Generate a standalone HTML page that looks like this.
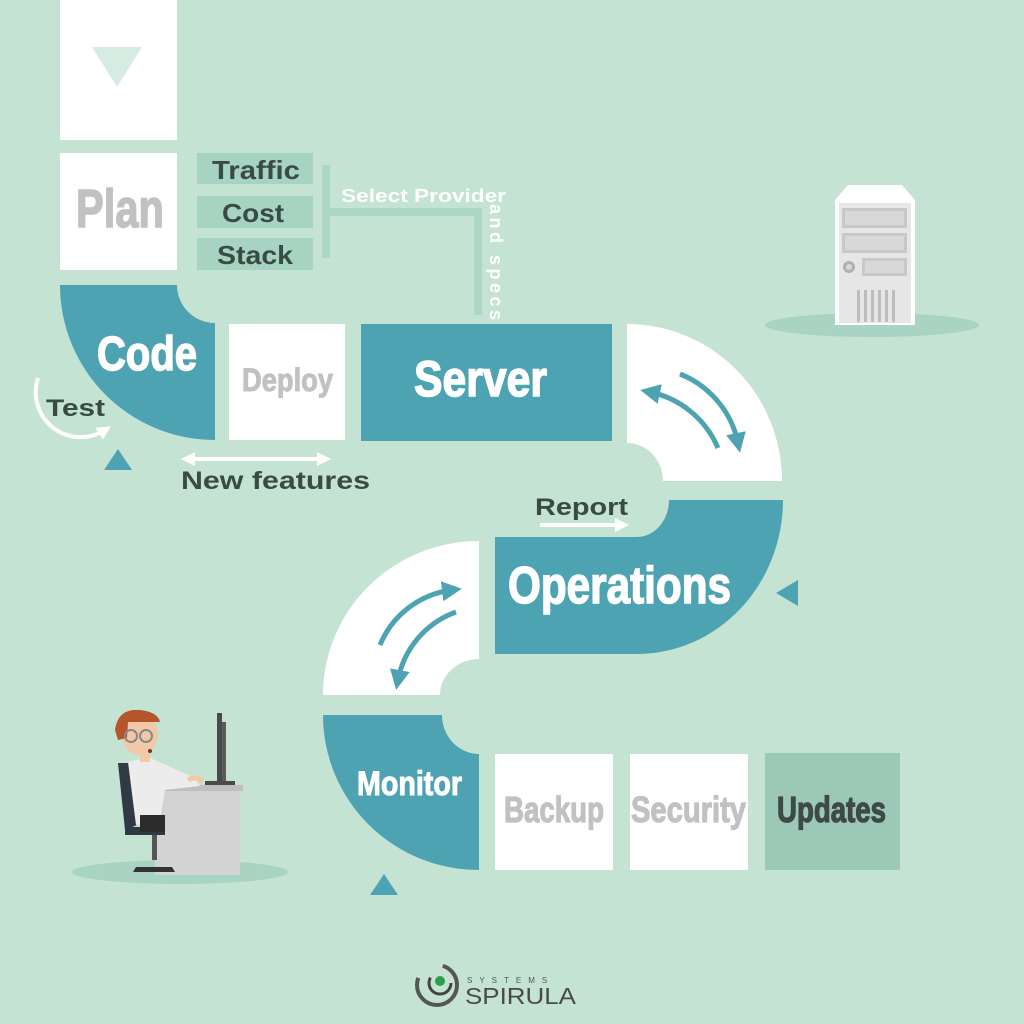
<!DOCTYPE html>
<html><head><meta charset="utf-8"><style>html,body{margin:0;padding:0;background:#c4e3d3;}svg{display:block}</style></head>
<body>
<svg width="1024" height="1024" viewBox="0 0 1024 1024" xmlns="http://www.w3.org/2000/svg">
<defs>
<marker id="ah" viewBox="0 0 10 10" refX="5" refY="5" markerWidth="4" markerHeight="4" orient="auto-start-reverse"><path d="M0,0 L10,5 L0,10 z" fill="#4ea3b3"/></marker>
<marker id="aw" viewBox="0 0 10 10" refX="5" refY="5" markerWidth="3.5" markerHeight="3.5" orient="auto-start-reverse"><path d="M0,0 L10,5 L0,10 z" fill="#fff"/></marker>
</defs>
<rect width="1024" height="1024" fill="#c4e3d3"/>
<rect x="60" y="0" width="117" height="140" fill="#fff"/>
<polygon points="92,47 142,47 117,87" fill="#d6ece3"/>
<rect x="60" y="153" width="117" height="117" fill="#fff"/>
<text x="76" y="227" font-family="Liberation Sans Narrow, Liberation Sans, sans-serif" font-weight="bold" font-size="54" fill="#c2c1c2" stroke="#c2c1c2" stroke-width="1.5" textLength="88" lengthAdjust="spacingAndGlyphs">Plan</text>
<rect x="197" y="153" width="116" height="31" fill="#a7d3c3"/>
<rect x="197" y="196" width="116" height="32" fill="#a7d3c3"/>
<rect x="197" y="238" width="116" height="32" fill="#a7d3c3"/>
<g font-family="Liberation Sans, sans-serif" font-weight="bold" font-size="26" fill="#3a4a45">
<text x="212" y="179" textLength="88" lengthAdjust="spacingAndGlyphs">Traffic</text>
<text x="222" y="222" textLength="62" lengthAdjust="spacingAndGlyphs">Cost</text>
<text x="217" y="264" textLength="76" lengthAdjust="spacingAndGlyphs">Stack</text>
</g>
<rect x="322" y="165" width="8" height="93" fill="#acd6c5"/>
<rect x="330" y="208" width="152" height="8" fill="#acd6c5"/>
<rect x="474" y="208" width="8" height="107" fill="#acd6c5"/>
<text x="341" y="202" font-family="Liberation Sans, sans-serif" font-weight="bold" font-size="18" fill="#fff" textLength="165" lengthAdjust="spacingAndGlyphs">Select Provider</text>
<text transform="translate(490,204) rotate(90)" x="0" y="0" font-family="Liberation Sans, sans-serif" font-weight="bold" font-size="18" fill="#fff" textLength="116" lengthAdjust="spacing">and specs</text>
<path d="M60,285 L177,285 A38,38 0 0 0 215,323 L215,440 A155,155 0 0 1 60,285 Z" fill="#4ea3b3"/>
<text x="97" y="370" font-family="Liberation Sans Narrow, Liberation Sans, sans-serif" font-weight="bold" font-size="48" fill="#fff" stroke="#fff" stroke-width="1.5" textLength="100" lengthAdjust="spacingAndGlyphs">Code</text>
<rect x="229" y="324" width="116" height="116" fill="#fff"/>
<text x="242" y="391" font-family="Liberation Sans Narrow, Liberation Sans, sans-serif" font-weight="bold" font-size="32" fill="#c2c1c2" stroke="#c2c1c2" stroke-width="1" textLength="91" lengthAdjust="spacingAndGlyphs">Deploy</text>
<rect x="361" y="324" width="251" height="117" fill="#4ea3b3"/>
<text x="414" y="396" font-family="Liberation Sans Narrow, Liberation Sans, sans-serif" font-weight="bold" font-size="50" fill="#fff" stroke="#fff" stroke-width="1.5" textLength="133" lengthAdjust="spacingAndGlyphs">Server</text>
<path d="M627,324 A155,157 0 0 1 782,481 L663,481 A36,38 0 0 0 627,443 Z" fill="#fff"/>
<path d="M718,448 A95,95 0 0 0 650,392" fill="none" stroke="#4ea3b3" stroke-width="5" marker-end="url(#ah)"/>
<path d="M680,374 A95,95 0 0 1 738,443" fill="none" stroke="#4ea3b3" stroke-width="5" marker-end="url(#ah)"/>
<path d="M495,537 L637,537 A32,37 0 0 0 669,500 L783,500 A146,154 0 0 1 637,654 L495,654 Z" fill="#4ea3b3"/>
<text x="508" y="603" font-family="Liberation Sans Narrow, Liberation Sans, sans-serif" font-weight="bold" font-size="52" fill="#fff" stroke="#fff" stroke-width="1.5" textLength="223" lengthAdjust="spacingAndGlyphs">Operations</text>
<polygon points="776,593 798,580 798,606" fill="#4ea3b3"/>
<path d="M323,695 A156,154 0 0 1 479,541 L479,659 A39,36 0 0 0 440,695 Z" fill="#fff"/>
<path d="M380,645 A90,90 0 0 1 452,590" fill="none" stroke="#4ea3b3" stroke-width="5" marker-end="url(#ah)"/>
<path d="M456,612 A90,90 0 0 0 398,680" fill="none" stroke="#4ea3b3" stroke-width="5" marker-end="url(#ah)"/>
<path d="M323,715 L442,715 A37,39 0 0 0 479,754 L479,870 A156,155 0 0 1 323,715 Z" fill="#4ea3b3"/>
<text x="357" y="795" font-family="Liberation Sans Narrow, Liberation Sans, sans-serif" font-weight="bold" font-size="34" fill="#fff" stroke="#fff" stroke-width="1" textLength="105" lengthAdjust="spacingAndGlyphs">Monitor</text>
<polygon points="370,895 398,895 384,874" fill="#4ea3b3"/>
<rect x="495" y="754" width="118" height="116" fill="#fff"/>
<rect x="630" y="754" width="118" height="116" fill="#fff"/>
<rect x="765" y="753" width="135" height="117" fill="#9cc8b8"/>
<g font-family="Liberation Sans Narrow, Liberation Sans, sans-serif" font-weight="bold" font-size="36" stroke-width="1.2">
<text x="504" y="822" fill="#c2c1c2" stroke="#c2c1c2" textLength="100" lengthAdjust="spacingAndGlyphs">Backup</text>
<text x="631" y="822" fill="#c2c1c2" stroke="#c2c1c2" textLength="115" lengthAdjust="spacingAndGlyphs">Security</text>
<text x="777" y="822" fill="#3d4a46" stroke="#3d4a46" textLength="109" lengthAdjust="spacingAndGlyphs">Updates</text>
</g>
<path d="M38,378 A45,45 0 0 0 105,430" fill="none" stroke="#fff" stroke-width="4" marker-end="url(#aw)"/>
<text x="46" y="416" font-family="Liberation Sans, sans-serif" font-weight="bold" font-size="24" fill="#3a4a45" textLength="59" lengthAdjust="spacingAndGlyphs">Test</text>
<polygon points="104,470 132,470 118,449" fill="#4ea3b3"/>
<line x1="188" y1="459" x2="324" y2="459" stroke="#fff" stroke-width="4" marker-start="url(#aw)" marker-end="url(#aw)"/>
<text x="181" y="489" font-family="Liberation Sans, sans-serif" font-weight="bold" font-size="25" fill="#3a4a45" textLength="189" lengthAdjust="spacingAndGlyphs">New  features</text>
<text x="535" y="515" font-family="Liberation Sans, sans-serif" font-weight="bold" font-size="24" fill="#3a4a45" textLength="93" lengthAdjust="spacingAndGlyphs">Report</text>
<line x1="540" y1="525" x2="622" y2="525" stroke="#fff" stroke-width="4" marker-end="url(#aw)"/>
<ellipse cx="872" cy="325" rx="107" ry="12" fill="#a9d3c2"/>
<path d="M835,200 L848,185 L902,185 L915,200 L915,325 L835,325 Z" fill="#fff"/>
<rect x="839" y="203" width="72" height="120" fill="#e6e6e6"/>
<rect x="842" y="208" width="65" height="20" fill="#c8c8c8"/><rect x="845" y="211" width="59" height="14" fill="#d8d8d8"/>
<rect x="842" y="233" width="65" height="20" fill="#c8c8c8"/><rect x="845" y="236" width="59" height="14" fill="#d8d8d8"/>
<rect x="862" y="258" width="45" height="18" fill="#c8c8c8"/><rect x="865" y="261" width="39" height="12" fill="#d8d8d8"/>
<circle cx="849" cy="267" r="6" fill="#b0b0b0"/><circle cx="849" cy="267" r="3" fill="#d8d8d8"/>
<g fill="#bdbdbd"><rect x="857" y="290" width="3" height="32"/><rect x="864" y="290" width="3" height="32"/><rect x="871" y="290" width="3" height="32"/><rect x="878" y="290" width="3" height="32"/><rect x="885" y="290" width="3" height="32"/><rect x="892" y="290" width="3" height="32"/></g>
<ellipse cx="180" cy="872" rx="108" ry="12" fill="#a9d3c2"/>
<rect x="155" y="790" width="85" height="85" fill="#d3d3d3"/>
<rect x="156" y="785" width="87" height="6" fill="#bfbfbf"/>
<rect x="217" y="713" width="5" height="70" fill="#4a4a4a"/><rect x="222" y="722" width="4" height="60" fill="#5a5a5a"/>
<rect x="205" y="781" width="30" height="4" fill="#4a4a4a"/>
<path d="M118,763 L130,763 L137,825 L125,830 Z" fill="#2f3a44"/>
<rect x="125" y="827" width="40" height="8" fill="#2f3a44"/>
<rect x="152" y="835" width="5" height="25" fill="#555"/>
<path d="M133,872 L175,872 L172,867 L136,867 Z" fill="#333"/>
<path d="M128,762 L148,757 L195,778 L200,786 L165,790 L160,820 L136,825 Z" fill="#ececec"/>
<rect x="140" y="815" width="25" height="17" fill="#2c2c2c"/>
<rect x="140" y="750" width="10" height="12" fill="#f2c9a8"/>
<ellipse cx="140" cy="735" rx="18" ry="20" fill="#f2c9a8"/>
<path d="M115,730 Q118,708 140,710 Q158,712 160,722 L128,722 L127,738 L118,740 Z" fill="#b5552b"/>
<circle cx="131" cy="736" r="6" fill="none" stroke="#888" stroke-width="2"/>
<circle cx="146" cy="736" r="6" fill="none" stroke="#888" stroke-width="2"/>
<circle cx="150" cy="751" r="2" fill="#6a3a2a"/>
<path d="M188,780 Q196,775 202,782" fill="none" stroke="#f2c9a8" stroke-width="5"/>
<circle cx="437" cy="985" r="20" fill="none" stroke="#555" stroke-width="4" stroke-dasharray="70 30"/>
<circle cx="440" cy="983" r="11" fill="none" stroke="#444" stroke-width="3" stroke-dasharray="40 30"/>
<circle cx="440" cy="981" r="5" fill="#2e9e4e"/>
<text x="467" y="983" font-family="Liberation Sans, sans-serif" font-size="8" fill="#555" letter-spacing="7">SYSTEMS</text>
<text x="465" y="1004" font-family="Liberation Sans, sans-serif" font-size="23" fill="#4a4a4a" textLength="111" lengthAdjust="spacingAndGlyphs">SPIRULA</text>
</svg>
</body></html>
